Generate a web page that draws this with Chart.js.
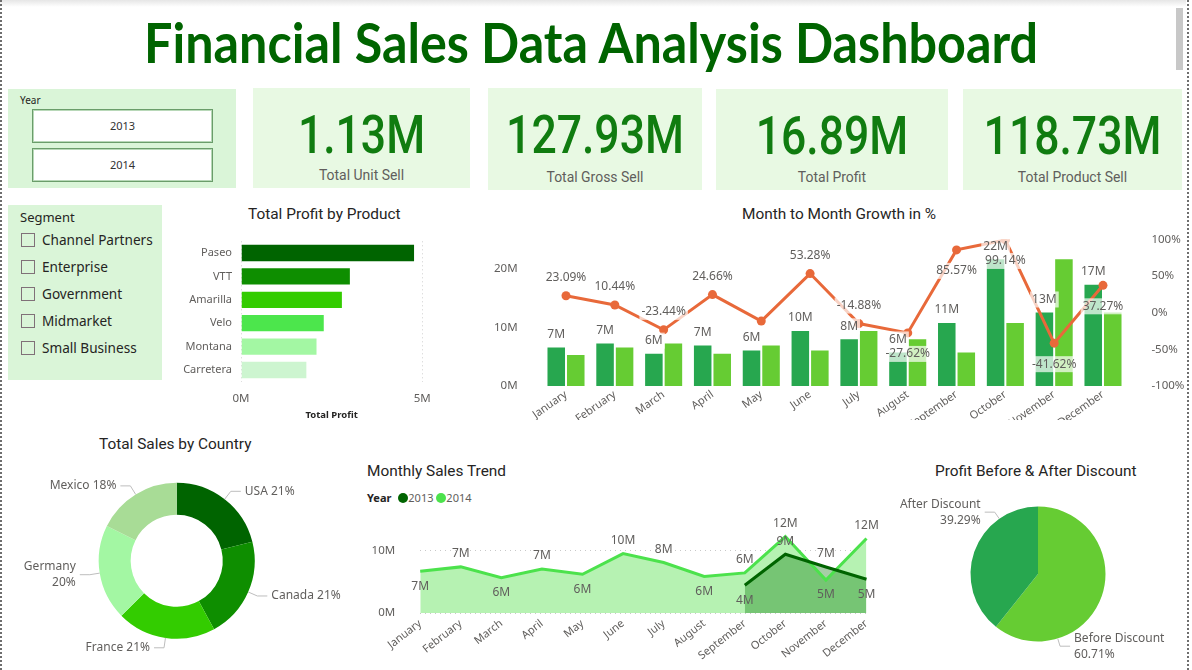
<!DOCTYPE html>
<html>
<head>
<meta charset="utf-8">
<title>Financial Sales Data Analysis Dashboard</title>
<script src="https://cdn.jsdelivr.net/npm/chart.js@4.4.1/dist/chart.umd.min.js"></script>
<style>
  html, body { margin: 0; padding: 0; background: #fff; }
  body { width: 1192px; height: 670px; position: relative; overflow: hidden; font-family: 'Noto Sans', 'Open Sans', sans-serif; color: #252423; }
  .abs { position: absolute; }
  #topShade { left: 0; top: 0; width: 1186px; height: 7px; background: linear-gradient(#e6e6e6, #fff); }
  #edgeL { left: 0; top: 0; height: 670px; border-left: 2px dotted #6e6e6e; }
  #edgeR { left: 1187px; top: 0; height: 670px; border-left: 2px dotted #6e6e6e; }
  #scroll { left: 1176px; top: 8px; width: 7px; height: 62px; background: #c8c8c8; }
  #title { left: 0; top: 9px; width: 1182px; text-align: center; white-space: nowrap; }
  #title span { display: inline-block; font: bold 55px Lato, sans-serif; color: #006400; transform-origin: center; }
  .panel { background: #daf5d8; }
  .card { background: #e8f9e3; }
  .kpi-val { position: absolute; left: 0; right: 0; text-align: center; font: 500 53px Roboto, sans-serif; color: #107c10; transform: scaleX(0.84); }
  .kpi-lab { position: absolute; left: 0; right: 0; text-align: center; font: 15.5px Roboto, sans-serif; color: #605e5c; transform: scaleX(0.9); }
  .yearBtn { position: absolute; left: 24px; width: 179px; height: 32px; background: #fff; border: 1px solid #6a9d6a; box-shadow: inset 0 0 0 1px #b8d8b8;
             text-align: center; line-height: 32px; font-size: 11px; color: #333; }
  .seg { position: absolute; left: 13px; height: 20px; font-size: 13.6px; line-height: 20px; color: #252423; white-space: nowrap; }
  .seg i { display: inline-block; width: 14px; height: 14px; border: 1px solid #807078; vertical-align: -2px; margin-right: 7px; box-sizing: border-box; }
  .ctitle { position: absolute; font: 15.4px Roboto, sans-serif; color: #252423; white-space: nowrap; }
  canvas { position: absolute; }
</style>
</head>
<body>
<div id="topShade" class="abs"></div>
<div id="edgeL" class="abs"></div>
<div id="edgeR" class="abs"></div>
<div id="scroll" class="abs"></div>
<div id="title" class="abs"><span id="titleText">Financial Sales Data Analysis Dashboard</span></div>

<!-- year slicer -->
<div class="abs panel" style="left:8px; top:89px; width:228px; height:99px;">
  <div class="abs" style="left:12px; top:4px; font-size:10px; color:#252423;">Year</div>
  <div class="yearBtn" style="top:20px;">2013</div>
  <div class="yearBtn" style="top:59px;">2014</div>
</div>

<!-- segment slicer -->
<div id="segPanel" class="abs panel" style="left:8px; top:205px; width:154px; height:175px;">
  <div class="abs" style="left:12px; top:3px; font-size:13px; color:#252423;">Segment</div>
</div>

<!-- KPI cards -->
<div id="cards"></div>

<div class="ctitle" style="left:248px; top:205px;">Total Profit by Product</div>
<div class="ctitle" style="left:742px; top:205px;">Month to Month Growth in %</div>
<div class="ctitle" style="left:99px; top:435px;">Total Sales by Country</div>
<div class="ctitle" style="left:367px; top:462px;">Monthly Sales Trend</div>
<div class="ctitle" style="left:935px; top:462px;">Profit Before &amp; After Discount</div>

<div class="abs" style="left:367px; top:490px; font-size:11px; color:#252423; white-space:nowrap;">
  <b>Year</b>
  <span style="display:inline-block; width:10px; height:10px; border-radius:50%; background:#006400; vertical-align:-1px; margin-left:4px;"></span><span style="color:#605e5c;">2013</span>
  <span style="display:inline-block; width:10px; height:10px; border-radius:50%; background:#4ce24c; vertical-align:-1px;"></span><span style="color:#605e5c;">2014</span>
</div>

<canvas id="profitChart" width="290" height="200" style="left:160px; top:225px;"></canvas>
<canvas id="growthChart" width="732" height="195" style="left:460px; top:225px;"></canvas>
<canvas id="countryChart" width="350" height="215" style="left:0px; top:455px;"></canvas>
<canvas id="trendChart" width="540" height="165" style="left:350px; top:505px;"></canvas>
<canvas id="discountChart" width="292" height="215" style="left:900px; top:455px;"></canvas>

<script>
// ---- data (sales & profit in millions) ----
const kpiValues = ['1.13M', '127.93M', '16.89M', '118.73M'];
const kpiNames = ['Total Unit Sell', 'Total Gross Sell', 'Total Profit', 'Total Product Sell'];

const segments = ['Channel Partners', 'Enterprise', 'Government', 'Midmarket', 'Small Business'];

const products = ['Paseo', 'VTT', 'Amarilla', 'Velo', 'Montana', 'Carretera'];
const productProfit = [4.80, 3.03, 2.81, 2.31, 2.11, 1.83];

const months = ['January', 'February', 'March', 'April', 'May', 'June', 'July',
                'August', 'September', 'October', 'November', 'December'];
const monthSales = [6.72, 7.42, 5.68, 7.08, 6.23, 9.55, 8.13, 5.89, 10.92, 21.75, 12.70, 17.43];
const prevMonthSales = [5.46, 6.72, 7.42, 5.68, 7.08, 6.23, 9.55, 8.13, 5.89, 10.92, 21.75, 12.70];
const growthPct = [23.09, 10.44, -23.44, 24.66, -11.5, 53.28, -14.88, -27.62, 85.57, 99.14, -41.62, 37.27];

const countries = ['USA', 'Canada', 'France', 'Germany', 'Mexico'];
const countrySales = [25.03, 24.89, 24.35, 23.51, 20.95];

const sales2013 = [null, null, null, null, null, null, null, null, 4.47, 9.45, 7.40, 5.43];
const sales2014 = [6.72, 7.42, 5.68, 7.08, 6.23, 9.55, 8.13, 5.89, 6.45, 12.30, 5.30, 12.00];

const discountNames = ['Before Discount', 'After Discount'];
const discountProfit = [26.10, 16.89];

// ---- styles ----
const productColors = ['#006400', '#0e8e00', '#33cc00', '#4ce64c', '#a3f7a3', '#cdf5d0'];
const countryColors = ['#006400', '#0e8e00', '#33cc00', '#a3f7a3', '#a8dc96'];
const growthLabelBelow = [false, false, false, false, false, false, false, true, true, true, true, true];
const hiddenGrowthLabels = [4];
const labelFont = "12px 'Noto Sans', sans-serif";
const labelColor = '#605e5c';

Chart.defaults.font.family = "'Noto Sans', sans-serif";
Chart.defaults.font.size = 11;
Chart.defaults.color = labelColor;
Chart.defaults.animation = false;
Chart.defaults.responsive = false;
Chart.defaults.plugins.legend.display = false;
Chart.defaults.plugins.tooltip.enabled = false;

// KPI cards
const cardBoxes = [[253, 88, 217, 100], [488, 88, 214, 102], [716, 89, 232, 101], [963, 89, 219, 101]];
const cardsDiv = document.getElementById('cards');
kpiValues.forEach((v, i) => {
    const [l, t, w, h] = cardBoxes[i];
    const card = document.createElement('div');
    card.className = 'abs card';
    card.style.cssText = `left:${l}px; top:${t}px; width:${w}px; height:${h}px;`;
    card.innerHTML = `<div class="kpi-val" style="top:16px;">${v}</div><div class="kpi-lab" style="top:${h - 22}px;">${kpiNames[i]}</div>`;
    cardsDiv.appendChild(card);
});

// segment list
const segPanel = document.getElementById('segPanel');
segments.forEach((s, i) => {
    const row = document.createElement('div');
    row.className = 'seg';
    row.style.top = (25 + i * 27) + 'px';
    row.innerHTML = `<i></i>${s}`;
    segPanel.appendChild(row);
});

// fit the title width
document.fonts.ready.then(() => {
    const t = document.getElementById('titleText');
    t.style.transform = `scaleX(${894 / t.offsetWidth})`;
});

function onlyTens(scale) {
    scale.ticks = scale.ticks.filter(t => t.value % 10 === 0);
}

// fixed axis width; drop the edge padding that tick padding would add
function fixWidth(w) {
    return s => { s.width = w; s.paddingTop = 0; s.paddingBottom = 0; };
}

// Total Profit by Product
new Chart(document.getElementById('profitChart'), {
    type: 'bar',
    data: {
        labels: products,
        datasets: [{
            data: productProfit,
            backgroundColor: productColors,
            borderColor: 'rgba(255,255,255,0.7)',
            borderWidth: 1,
            categoryPercentage: 1,
            barPercentage: 0.78
        }]
    },
    options: {
        indexAxis: 'y',
        layout: { padding: { top: 16.3, right: 27.7, left: 0, bottom: 0 } },
        scales: {
            x: {
                min: 0, max: 5,
                ticks: { stepSize: 5, callback: v => v + 'M', padding: 10, font: { size: 11.5 } },
                grid: { color: '#d0d0d0', drawTicks: false },
                border: { display: false, dash: [1, 3] },
                title: { display: true, text: 'Total Profit', color: '#252423', font: { size: 9.5, weight: 'bold' }, padding: { top: 2 } },
                afterFit: s => { s.height = 43.3; }
            },
            y: {
                grid: { display: false, drawTicks: false },
                border: { display: false },
                ticks: { padding: 9, font: { size: 11 } },
                afterFit: fixWidth(81)
            }
        }
    }
});

// Month to Month Growth in %
const growthLabelPlugin = {
    id: 'growthLabels',
    afterDatasetsDraw(chart) {
        const ctx = chart.ctx;
        const items = [];
        chart.getDatasetMeta(1).data.forEach((bar, i) => {
            items.push({ text: Math.round(monthSales[i]) + 'M', x: bar.x, y: bar.y - 12 });
        });
        chart.getDatasetMeta(0).data.forEach((pt, i) => {
            if (hiddenGrowthLabels.includes(i)) return;
            items.push({ text: growthPct[i].toFixed(2) + '%', x: pt.x, y: pt.y + (growthLabelBelow[i] ? 21 : -18) });
        });
        ctx.save();
        ctx.font = labelFont;
        ctx.textAlign = 'center';
        ctx.textBaseline = 'middle';
        ctx.fillStyle = 'rgba(255,255,255,0.7)';
        items.forEach(it => {
            const w = ctx.measureText(it.text).width;
            ctx.fillRect(it.x - w / 2 - 2, it.y - 8, w + 4, 16);
        });
        ctx.fillStyle = labelColor;
        items.forEach(it => ctx.fillText(it.text, it.x, it.y));
        ctx.restore();
    }
};

new Chart(document.getElementById('growthChart'), {
    data: {
        labels: months,
        datasets: [
            {
                type: 'line', data: growthPct, yAxisID: 'yPct', order: 0,
                borderColor: '#e8693a', backgroundColor: '#e8693a', borderWidth: 3,
                pointRadius: 4.5, pointBorderWidth: 0
            },
            {
                type: 'bar', data: monthSales, yAxisID: 'ySales', order: 1,
                backgroundColor: '#27a74f', borderColor: 'rgba(255,255,255,0.55)', borderWidth: 1,
                categoryPercentage: 0.8, barPercentage: 1
            },
            {
                type: 'bar', data: prevMonthSales, yAxisID: 'ySales', order: 1,
                backgroundColor: '#66cc33', borderColor: 'rgba(255,255,255,0.55)', borderWidth: 1,
                categoryPercentage: 0.8, barPercentage: 1
            }
        ]
    },
    options: {
        layout: { padding: { top: 14.3, left: 0, right: 0, bottom: 0 } },
        scales: {
            x: {
                grid: { display: false, drawTicks: false },
                border: { display: false },
                ticks: { minRotation: 35, maxRotation: 35, autoSkip: false, padding: 2, font: { size: 11 } },
                afterFit: s => { s.height = 34; }
            },
            ySales: {
                position: 'left', min: 0, max: 25,
                ticks: { stepSize: 10, callback: v => v + 'M', padding: 24, font: { size: 11.5 } },
                grid: { display: false, drawTicks: false },
                border: { display: false },
                afterBuildTicks: onlyTens,
                afterFit: fixWidth(81.6)
            },
            yPct: {
                position: 'right', min: -100, max: 100,
                ticks: { stepSize: 50, callback: v => v + '%', padding: 24, font: { size: 11.5 } },
                grid: { display: false, drawTicks: false },
                border: { display: false },
                afterFit: fixWidth(64.6)
            }
        }
    },
    plugins: [growthLabelPlugin]
});

// slice labels with leader lines for donut & pie
const sliceLabelPlugin = {
    id: 'sliceLabels',
    afterDatasetsDraw(chart, args, opts) {
        const ctx = chart.ctx;
        const data = chart.data.datasets[0].data;
        const total = data.reduce((a, b) => a + b, 0);
        ctx.save();
        ctx.font = labelFont;
        ctx.textBaseline = 'middle';
        ctx.strokeStyle = '#bdbdbd';
        ctx.lineWidth = 1;
        chart.getDatasetMeta(0).data.forEach((arc, i) => {
            const p = arc.getProps(['x', 'y', 'outerRadius', 'startAngle', 'endAngle'], true);
            const a = opts.angles ? (opts.angles[i] - 90) * Math.PI / 180 : (p.startAngle + p.endAngle) / 2;
            const cos = Math.cos(a), sin = Math.sin(a);
            const x0 = p.x + cos * p.outerRadius, y0 = p.y + sin * p.outerRadius;
            const x1 = p.x + cos * (p.outerRadius + opts.leader), y1 = p.y + sin * (p.outerRadius + opts.leader);
            const right = cos >= 0;
            const x2 = x1 + (right ? 10 : -10);
            ctx.beginPath();
            ctx.moveTo(x0, y0);
            ctx.lineTo(x1, y1);
            ctx.lineTo(x2, y1);
            ctx.stroke();
            const name = chart.data.labels[i];
            const pct = (data[i] / total * 100).toFixed(opts.decimals) + '%';
            const tx = x2 + (right ? 4 : -4);
            const one = name + ' ' + pct;
            const w = ctx.measureText(one).width;
            const fits = right ? tx + w < chart.width - 4 : tx - w > 6;
            ctx.textAlign = right ? 'left' : 'right';
            ctx.fillStyle = labelColor;
            if (fits) {
                ctx.fillText(one, tx, y1);
            } else {
                ctx.fillText(name, tx, y1 - 8);
                ctx.fillText(pct, tx, y1 + 8);
            }
        });
        ctx.restore();
    }
};

// Total Sales by Country
new Chart(document.getElementById('countryChart'), {
    type: 'doughnut',
    data: {
        labels: countries,
        datasets: [{ data: countrySales, backgroundColor: countryColors, borderWidth: 0 }]
    },
    options: {
        cutout: '59%',
        layout: { padding: { left: 98.7, right: 95.3, top: 27.7, bottom: 31.3 } },
        plugins: { sliceLabels: { decimals: 0, leader: 10 } }
    },
    plugins: [sliceLabelPlugin]
});

// Monthly Sales Trend
const trendLabelPlugin = {
    id: 'trendLabels',
    afterDatasetsDraw(chart) {
        const ctx = chart.ctx;
        ctx.save();
        ctx.font = labelFont;
        ctx.textAlign = 'center';
        ctx.textBaseline = 'middle';
        ctx.fillStyle = labelColor;
        chart.data.datasets.forEach((ds, di) => {
            chart.getDatasetMeta(di).data.forEach((pt, i) => {
                const v = ds.data[i];
                if (v == null) return;
                const prev = ds.data[i - 1], next = ds.data[i + 1];
                const low = (prev == null || v < prev) && (next == null || v < next);
                ctx.fillText(Math.round(v) + 'M', pt.x, pt.y + (low ? 15 : -13));
            });
        });
        ctx.restore();
    }
};

new Chart(document.getElementById('trendChart'), {
    type: 'line',
    data: {
        labels: months,
        datasets: [
            { label: '2013', data: sales2013, borderColor: '#006400', backgroundColor: 'rgba(0,115,0,0.35)', fill: 'origin', borderWidth: 3, pointRadius: 0 },
            { label: '2014', data: sales2014, borderColor: '#4ce24c', backgroundColor: '#b6f2b2', fill: 'origin', borderWidth: 3, pointRadius: 0 }
        ]
    },
    options: {
        layout: { padding: { top: 21, right: 23.5, left: 0, bottom: 0 } },
        plugins: { filler: { drawTime: 'beforeDatasetsDraw' } },
        scales: {
            x: {
                grid: { display: false, drawTicks: false },
                border: { display: false },
                ticks: { minRotation: 38, maxRotation: 38, autoSkip: false, padding: 4, font: { size: 11 } },
                afterFit: s => { s.height = 57; }
            },
            y: {
                min: 0, max: 14,
                ticks: { stepSize: 10, callback: v => v + 'M', padding: 25, font: { size: 11.5 } },
                grid: { color: '#c8c8c8', drawTicks: false },
                border: { display: false, dash: [1, 4] },
                afterBuildTicks: onlyTens,
                afterFit: fixWidth(70.2)
            }
        }
    },
    plugins: [trendLabelPlugin]
});

// Profit Before & After Discount
new Chart(document.getElementById('discountChart'), {
    type: 'pie',
    data: {
        labels: discountNames,
        datasets: [{ data: discountProfit, backgroundColor: ['#66cc33', '#27a74f'], borderWidth: 0 }]
    },
    options: {
        layout: { padding: { left: 70.5, right: 86.5, top: 51.5, bottom: 28.5 } },
        plugins: { sliceLabels: { decimals: 2, leader: 8, angles: [163, 325] } }
    },
    plugins: [sliceLabelPlugin]
});
</script>
</body>
</html>
